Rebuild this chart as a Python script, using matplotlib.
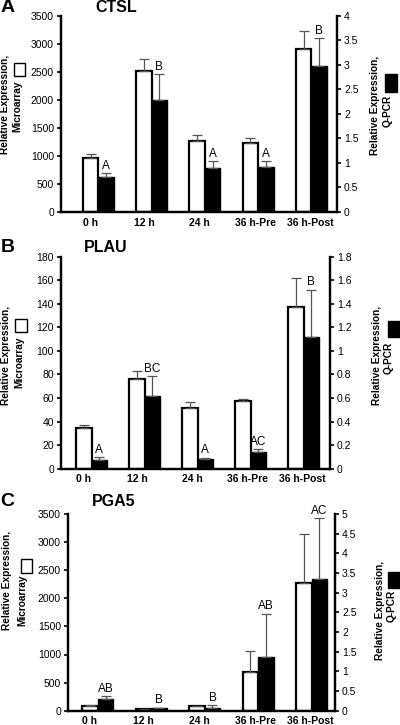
import matplotlib.pyplot as plt
import numpy as np
from matplotlib.patches import Rectangle

plt.rcParams['font.family'] = ['Liberation Sans', 'DejaVu Sans']

times = ['0 h', '12 h', '24 h', '36 h-Pre', '36 h-Post']

# CTSL
ctsl_micro = [970, 2515, 1268, 1238, 2900]
ctsl_micro_err = [58, 205, 110, 77, 335]
ctsl_qpcr = [0.72, 2.28, 0.90, 0.92, 2.98]
ctsl_qpcr_err = [0.07, 0.53, 0.14, 0.11, 0.56]
ctsl_letters = ['A', 'B', 'A', 'A', 'B']

# PLAU
plau_micro = [34.2, 75.9, 51.5, 57.2, 137]
plau_micro_err = [2.9, 7.3, 4.8, 2.2, 25]
plau_qpcr = [0.074, 0.614, 0.085, 0.14, 1.12]
plau_qpcr_err = [0.022, 0.173, 0.008, 0.024, 0.40]
plau_letters = ['A', 'BC', 'A', 'AC', 'B']

# PGA5
pga5_micro = [89, 30, 83, 682, 2278]
pga5_micro_err = [11, 4, 6, 386, 866]
pga5_qpcr = [0.305, 0.068, 0.076, 1.356, 3.356]
pga5_qpcr_err = [0.068, 0.008, 0.06, 1.114, 1.534]
pga5_letters = ['AB', 'B', 'B', 'AB', 'AC']

# layout in pixels: axes rect (l, t, r, b), title y, gene x,
# left label (line1 x, y, line2 x, y, square x0, y0, x1, y1), right label (same)
panels = [
    dict(letter='A', gene='CTSL', micro=ctsl_micro, micro_err=ctsl_micro_err,
         qpcr=ctsl_qpcr, qpcr_err=ctsl_qpcr_err, letters=ctsl_letters,
         lmax=3500, lstep=500, rmax=4, rstep=0.5, xlim=(-0.7, 4.48),
         rect=[61, 15.7, 337, 212], ty=8, gx=95,
         llab=[5, 104, 17, 106, 14, 63, 25, 76],
         rlab=[375, 105, 388, 111, 385, 74, 397, 92]),
    dict(letter='B', gene='PLAU', micro=plau_micro, micro_err=plau_micro_err,
         qpcr=plau_qpcr, qpcr_err=plau_qpcr_err, letters=plau_letters,
         lmax=180, lstep=20, rmax=1.8, rstep=0.2, xlim=(-0.58, 4.5),
         rect=[61, 256.7, 330, 468.7], ty=248, gx=84,
         llab=[6, 355, 19, 362, 15, 319, 27, 332],
         rlab=[377, 355, 389, 358, 388, 321, 400, 337]),
    dict(letter='C', gene='PGA5', micro=pga5_micro, micro_err=pga5_micro_err,
         qpcr=pga5_qpcr, qpcr_err=pga5_qpcr_err, letters=pga5_letters,
         lmax=3500, lstep=500, rmax=5, rstep=0.5, xlim=(-0.56, 4.44),
         rect=[68, 514, 335, 710.7], ty=501, gx=92,
         llab=[7, 580, 22, 600, 21, 559, 32, 573],
         rlab=[380, 610, 392, 606, 388, 572, 399, 588]),
]

W, H = 400, 725
fig = plt.figure(figsize=(W / 100, H / 100), dpi=100)


def fmt(v):
    return ('%g' % round(v, 2))


def fy(y):
    return 1 - y / H


x = np.arange(len(times))
w = 0.29
label_x = [-0.15, 0.86, 1.9, 2.95, 3.98]
lab_kw = dict(rotation=90, fontsize=7.3, fontweight='bold', ha='center', va='center')

for p in panels:
    l, t, r, b = p['rect']
    ax = fig.add_axes([l / W, fy(b), (r - l) / W, (b - t) / H])
    ax2 = ax.twinx()

    ax.bar(x - w / 2, p['micro'], w, color='white', edgecolor='black', linewidth=1.6,
           yerr=[np.zeros(5), p['micro_err']], ecolor='#555555',
           error_kw=dict(elinewidth=0.9, capsize=3.5, capthick=0.9), zorder=2)
    ax2.bar(x + w / 2, p['qpcr'], w, color='black', edgecolor='black', linewidth=1.0,
            yerr=[np.zeros(5), p['qpcr_err']], ecolor='#555555',
            error_kw=dict(elinewidth=0.9, capsize=3.5, capthick=0.9), zorder=2)

    for xi, v, e, s in zip(x, p['qpcr'], p['qpcr_err'], p['letters']):
        ax2.annotate(s, (xi + w / 2, v + e), xytext=(0, 1), textcoords='offset points',
                     ha='center', va='bottom', fontsize=8.5)

    ax.set_xlim(*p['xlim'])
    ax.set_ylim(0, p['lmax'])
    ax2.set_ylim(0, p['rmax'])
    lt = np.arange(0, p['lmax'] + p['lstep'] / 2, p['lstep'])
    rt = np.arange(0, p['rmax'] + p['rstep'] / 2, p['rstep'])
    ax.set_yticks(lt)
    ax.set_yticklabels([fmt(v) for v in lt], fontsize=7.5)
    ax2.set_yticks(rt)
    ax2.set_yticklabels([fmt(v) for v in rt], fontsize=7.5)
    ax.set_xticks(label_x)
    ax.set_xticklabels(times, fontsize=7.5, fontweight='bold')
    ax.tick_params(axis='x', length=0, pad=4)
    ax.tick_params(axis='y', direction='out', length=3, width=1.2, pad=2)
    ax2.tick_params(axis='y', direction='out', length=3, width=1.2, pad=2)
    for a in (ax, ax2):
        a.spines['top'].set_visible(False)
        for s in ('left', 'right', 'bottom'):
            a.spines[s].set_linewidth(1.6)
    ax2.set_zorder(ax.get_zorder() + 1)
    ax2.patch.set_visible(False)

    fig.text(0.5 / W, fy(p['ty']), p['letter'], fontsize=14, fontweight='bold',
             ha='left', va='center')
    fig.text(p['gx'] / W, fy(p['ty']), p['gene'], fontsize=11.5, fontweight='bold',
             ha='left', va='center')

    # axis titles with square swatches
    for lab, line2, fc in ((p['llab'], 'Microarray', 'white'), (p['rlab'], 'Q-PCR', 'black')):
        x1, y1, x2, y2, sx0, sy0, sx1, sy1 = lab
        fig.text(x1 / W, fy(y1), 'Relative Expression,', **lab_kw)
        fig.text(x2 / W, fy(y2), line2, **lab_kw)
        fig.patches.append(Rectangle((sx0 / W, fy(sy1)), (sx1 - sx0) / W, (sy1 - sy0) / H,
                                     transform=fig.transFigure, facecolor=fc,
                                     edgecolor='black', linewidth=1.0, figure=fig))

fig.savefig('out.png', dpi=100)
